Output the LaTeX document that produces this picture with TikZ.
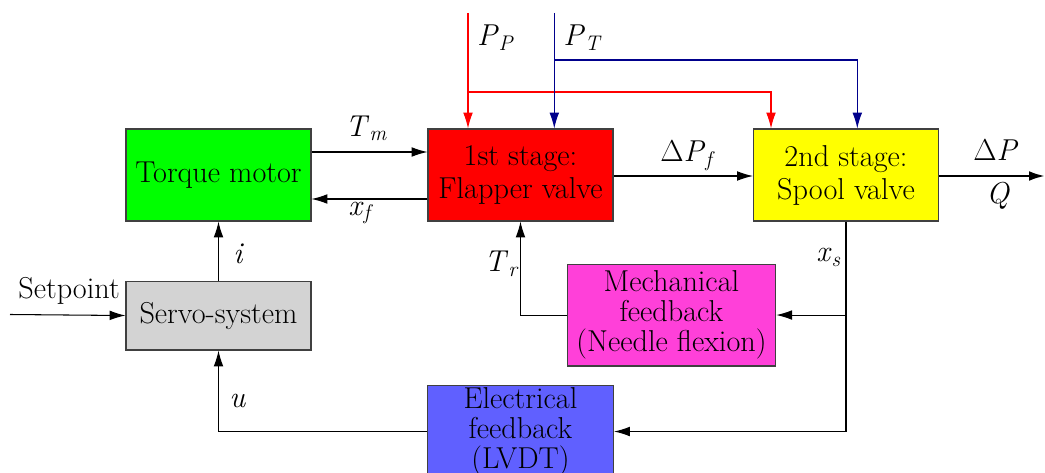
\documentclass[tikz,border=0pt]{standalone}
\usepackage{fontspec}
\usetikzlibrary{arrows.meta, positioning}

\definecolor{motorgreen}{RGB}{0,255,0}
\definecolor{stagered}{RGB}{255,0,0}
\definecolor{spoolyellow}{RGB}{255,255,0}
\definecolor{mechpink}{RGB}{255,64,217}
\definecolor{elecblue}{RGB}{96,96,255}
\definecolor{servogray}{RGB}{211,211,211}
\definecolor{tankblue}{RGB}{0,0,140}

\newcommand{\varsub}[2]{\textit{#1}\textsubscript{\textit{#2}}}

\begin{document}
\begin{tikzpicture}[
      x=0.02cm, y=-0.02cm,
      font=\fontsize{17.2}{17}\selectfont,
      block/.style={rectangle, draw=black!75, line width=0.6pt, minimum width=3.7cm, minimum height=1.84cm, align=center, inner sep=0pt},
      tall/.style={font=\fontsize{17.2}{18.8}\selectfont},
      lbl/.style={anchor=base west, inner sep=0pt},
      arrow/.style={-{Latex[length=9pt, width=5.5pt]}, line width=0.6pt}
    ]
    \useasboundingbox (0,0) rectangle (1045,473);

    \node[block, fill=motorgreen] (torque) at (218.5,175) {Torque motor};
    \node[block, tall, fill=stagered, right=2.32cm of torque] (flapper) {1st stage:\\Flapper valve};
    \node[block, tall, fill=spoolyellow, right=2.79cm of flapper] (spool) {2nd stage:\\Spool valve};
    \node[block, fill=servogray, minimum height=1.38cm, below=1.18cm of torque] (servo) {Servo-system};
    \node[block, fill=mechpink, minimum width=4.17cm, minimum height=2.04cm, below=0.84cm of flapper, xshift=3.02cm] (mech) {Mechanical\\feedback\\(Needle flexion)};
    \node[block, fill=elecblue, minimum width=3.72cm, below=3.27cm of flapper] (elec) {Electrical\\feedback\\(LVDT)};

    \coordinate (pp) at (468,13);
    \coordinate (ppsplit) at (468,92);
    \coordinate (pt) at (554.3,13);
    \coordinate (ptsplit) at (554.3,60);
    \coordinate (sp) at (10,314.5);
    \coordinate (out) at (1045,176);

    % supply and tank pressures
    \draw[arrow, stagered] (pp) -- (pp |- flapper.north);
    \draw[arrow, stagered] (ppsplit) -| (spool.north -| 771,0);
    \draw[arrow, tankblue] (pt) -- (pt |- flapper.north);
    \draw[arrow, tankblue] (ptsplit) -| (spool.north -| 857.3,0);

    % forward path
    \draw[arrow] (torque.east |- 0,152) -- (flapper.west |- 0,152);
    \draw[arrow] (flapper.west |- 0,199) -- (torque.east |- 0,199);
    \draw[arrow] (flapper.east |- 0,176) -- (spool.west |- 0,176);
    \draw[arrow, line width=1.3pt] (spool.east |- 0,176) -- (out);
    \draw[arrow] (sp) -- (servo.west);
    \draw[arrow] (servo.north) -- (torque.south);

    % feedback loops
    \draw[arrow] (spool.south) |- (elec.east);
    \draw[arrow] (spool.south |- mech.east) -- (mech.east);
    \draw[arrow] (mech.west) -| (flapper.south);
    \draw[arrow] (elec.west) -| (servo.south);

    \node[lbl] (lpp) at (476.7,45.7) {\varsub{P}{P}};
    \node[lbl] (lpt) at (563,45.7) {\varsub{P}{T}};
    \node[lbl] (ltm) at (345,136) {\varsub{T}{m}};
    \node[lbl] (lxf) at (348,215) {\varsub{x}{f}};
    \node[lbl] (ldpf) at (660,161.7) {Δ\varsub{P}{f}};
    \node[lbl] (ldp) at (973,160.7) {Δ\textit{P}};
    \node[lbl] (lq) at (986,203) {\textit{Q}};
    \node[lbl] (lxs) at (816,261.7) {\varsub{x}{s}};
    \node[lbl] (ltr) at (484,271.7) {\varsub{T}{r}};
    \node[lbl] (li) at (233,263.3) {\textit{i}};
    \node[lbl] (lu) at (229,407) {\textit{u}};
    \node[lbl] (lsp) at (18,298.3) {Setpoint};
  \end{tikzpicture}
\end{document}
